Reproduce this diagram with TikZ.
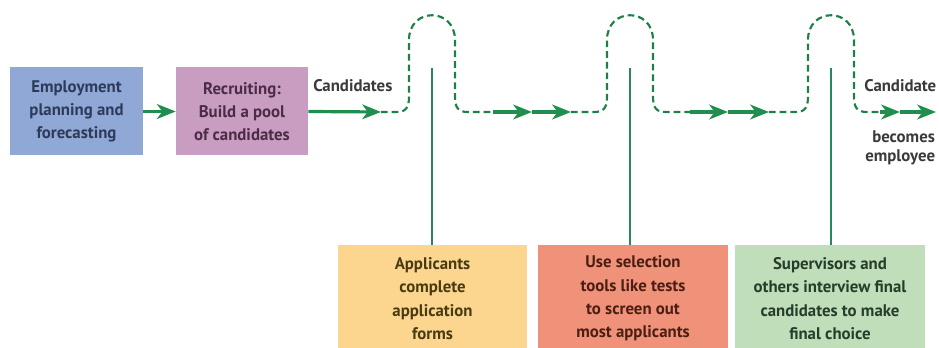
\documentclass[tikz,border=0pt]{standalone}
\usepackage{fontspec}
\setmainfont{PT Sans}
\usetikzlibrary{arrows.meta}
\definecolor{flowgreen}{RGB}{32,142,78}
\definecolor{linegreen}{RGB}{40,135,95}
\definecolor{bluebox}{RGB}{143,168,214}
\definecolor{pinkbox}{RGB}{201,156,194}
\definecolor{yellowbox}{RGB}{252,214,142}
\definecolor{redbox}{RGB}{240,146,122}
\definecolor{greenbox}{RGB}{192,222,186}
\definecolor{bluetext}{RGB}{45,58,88}
\definecolor{pinktext}{RGB}{75,44,68}
\definecolor{yellowtext}{RGB}{72,58,18}
\definecolor{redtext}{RGB}{74,30,18}
\definecolor{greentext}{RGB}{36,62,42}
\definecolor{labeltext}{RGB}{58,58,58}
\begin{document}
\begin{tikzpicture}[x=0.75pt,y=-0.75pt,
  box/.style={rectangle, inner sep=0pt, align=center, font=\bfseries\fontsize{12.6}{17.5}\selectfont},
  flow/.style={draw=flowgreen, line width=2.4pt, -{Stealth[length=14pt,width=11pt,inset=4pt]}},
  flowdash/.style={draw=flowgreen!90!black, line width=1.6pt, dash pattern=on 5pt off 3pt},
  stem/.style={draw=linegreen, line width=1.6pt},
  lbl/.style={font=\bfseries\fontsize{12.6}{16}\selectfont, text=labeltext, inner sep=0pt}]
\useasboundingbox (0,0) rectangle (939,348);
\clip (0,0) rectangle (939,348);

% top boxes
\node[box, fill=bluebox, text=bluetext, minimum width=99.75pt, minimum height=66pt] (plan) at (76.5,111.5) {Employment\\planning and\\forecasting};
\node[box, fill=pinkbox, text=pinktext, minimum width=99pt, minimum height=66pt] (recruit) at (242,111.5) {Recruiting:\\Build a pool\\of candidates};

% bottom boxes
\node[box, fill=yellowbox, text=yellowtext, minimum width=141.75pt, minimum height=80.25pt] (apply) at (432.5,298.5) {Applicants\\complete\\application\\forms};
\node[box, fill=redbox, text=redtext, minimum width=142.5pt, minimum height=80.25pt] (screen) at (633,298.5) {Use selection\\tools like tests\\to screen out\\most applicants};
\node[box, fill=greenbox, text=greentext, minimum width=142.5pt, minimum height=80.25pt] (interview) at (830,298.5) {Supervisors and\\others interview final\\candidates to make\\final choice};

% labels
\node[lbl, anchor=west] (cand) at (313,86) {Candidates};
\node[lbl, anchor=west] (cand2) at (864,86) {Candidate};
\node[lbl, anchor=west] (becomes) at (872,137) {becomes};
\node[lbl, anchor=west] (employee) at (865,157) {employee};

% coordinates along the flow
\coordinate (a1) at (381,112);
\coordinate (b1) at (493,112);
\coordinate (m1) at (532,112);
\coordinate (a2) at (571,112);
\coordinate (b2) at (690,112);
\coordinate (m2) at (728,112);
\coordinate (a3) at (769,112);
\coordinate (b3) at (880,112);
\coordinate (m3) at (900,112);
\coordinate (e3) at (936,112);
\coordinate (t1) at (432,68);
\coordinate (t2) at (630,68);
\coordinate (t3) at (831,68);

% solid arrows
\draw[flow] (plan.east) -- (recruit.west);
\draw[flow] (recruit.east) -- (a1);
\draw[flow] (b1) -- (m1);
\draw[flow] (m1) -- (a2);
\draw[flow] (b2) -- (m2);
\draw[flow] (m2) -- (a3);
\draw[flow] (b3) -- (m3);
\draw[flow] (m3) -- (e3);

% dashed bumps
\draw[flowdash] (a1) -- (396,112) .. controls (406,112) and (409,108) .. (409,96) -- (409,40)
  .. controls (409,7) and (455,7) .. (455,40) -- (455,96)
  .. controls (455,108) and (458,112) .. (468,112) -- (b1);
\draw[flowdash] (a2) -- (594,112) .. controls (604,112) and (607,108) .. (607,96) -- (607,40)
  .. controls (607,7) and (653,7) .. (653,40) -- (653,96)
  .. controls (653,108) and (656,112) .. (666,112) -- (b2);
\draw[flowdash] (a3) -- (795,112) .. controls (805,112) and (808,108) .. (808,96) -- (808,40)
  .. controls (808,7) and (854,7) .. (854,40) -- (854,96)
  .. controls (854,108) and (857,112) .. (867,112) -- (b3);

% stems
\draw[stem] (t1) -- (t1 |- apply.north);
\draw[stem] (t2) -- (t2 |- screen.north);
\draw[stem] (t3) -- (t3 |- interview.north);
\end{tikzpicture}
\end{document}
